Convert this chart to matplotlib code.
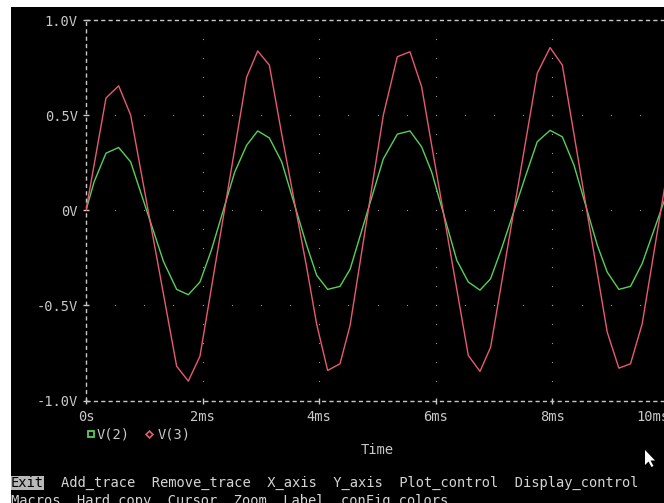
import numpy as np
import matplotlib
matplotlib.use("Agg")
import matplotlib.pyplot as plt
from matplotlib.patches import Rectangle, Polygon
from matplotlib.lines import Line2D

# ---- data (time in ms, volts) ----
time_ms = [0.0, 0.14, 0.343, 0.56, 0.766, 1.33, 1.555, 1.755, 1.955, 2.15, 2.55,
           2.756, 2.945, 3.145, 3.357, 3.785, 3.957, 4.145, 4.357, 4.53,
           5.10, 5.34, 5.557, 5.757, 5.93, 6.36, 6.557, 6.758, 6.94, 7.13,
           7.54, 7.74, 7.96, 8.17, 8.37, 8.77, 8.94, 9.14, 9.34, 9.54, 10.0]
v2 = [0.00, 0.15, 0.30, 0.33, 0.254, -0.27, -0.416, -0.444, -0.377, -0.21, 0.20,
      0.342, 0.417, 0.38, 0.254, -0.184, -0.342, -0.416, -0.40, -0.31,
      0.27, 0.40, 0.417, 0.333, 0.20, -0.263, -0.377, -0.42, -0.36, -0.20,
      0.18, 0.36, 0.42, 0.386, 0.237, -0.184, -0.325, -0.416, -0.40, -0.28, 0.12]
v3 = [0.00, 0.24, 0.59, 0.654, 0.50, -0.443, -0.82, -0.898, -0.767, -0.41, 0.32,
      0.70, 0.837, 0.763, 0.40, -0.30, -0.60, -0.842, -0.807, -0.605,
      0.50, 0.807, 0.833, 0.649, 0.34, -0.415, -0.763, -0.847, -0.72, -0.378,
      0.36, 0.72, 0.855, 0.763, 0.40, -0.33, -0.64, -0.83, -0.807, -0.597, 0.26]

x_ticks = [0, 2, 4, 6, 8, 10]
x_ticklabels = ["0s", "2ms", "4ms", "6ms", "8ms", "10ms"]
y_ticks = [-1.0, -0.5, 0.0, 0.5, 1.0]
y_ticklabels = ["-1.0V", "-0.5V", "0V", "0.5V", "1.0V"]
series_names = ["V(2)", "V(3)"]
menu_exit = "Exit"
menu_line1 = "Add_trace  Remove_trace  X_axis  Y_axis  Plot_control  Display_control"
menu_line2 = "Macros  Hard_copy  Cursor  Zoom  Label  conFig_colors"
x_title = "Time"

W, H = 664, 503
GREEN = "#58d058"
RED = "#e65a72"
GRAY = "#c8c8c8"
MONO = "DejaVu Sans Mono"
FS = 9.9
CW = FS * 100 / 72 * 0.602  # char width in px

def fx(px):
    return px / W

def fy(py):
    return 1 - py / H

fig = plt.figure(figsize=(W / 100, H / 100), dpi=100, facecolor="white")
# black screen area (white border top/left)
fig.add_artist(Rectangle((fx(11), 0), 1 - fx(11), fy(7), transform=fig.transFigure,
                         facecolor="black", edgecolor="none", zorder=0))

ax_l, ax_r, ax_t, ax_b = 86, 669, 20, 400.5
ax = fig.add_axes([fx(ax_l), fy(ax_b), fx(ax_r - ax_l), (ax_b - ax_t) / H])
ax.set_facecolor("black")
ax.set_xlim(0, 10)
ax.set_ylim(-1, 1)
for s in ax.spines.values():
    s.set_visible(False)

dash = (0, (3.0, 2.3))
ax.axhline(1, color=GRAY, lw=1.0, linestyle=dash, clip_on=False)
ax.axhline(-1, color=GRAY, lw=1.0, linestyle=dash, clip_on=False)
ax.axvline(0, color=GRAY, lw=1.0, linestyle=dash, clip_on=False)

# dotted grid
gx = np.arange(0.5, 10.0, 0.5)
for yv in [-0.5, 0.0, 0.5]:
    ax.scatter(gx, np.full_like(gx, yv), s=0.8, color="#9a9a9a", linewidths=0, zorder=1)
gy = np.arange(-0.9, 0.95, 0.1)
for xv in [2, 4, 6, 8]:
    ax.scatter(np.full_like(gy, xv), gy, s=0.8, color="#9a9a9a", linewidths=0, zorder=1)

ax.plot(time_ms, v2, color=GREEN, lw=1.0, zorder=3)
ax.plot(time_ms, v3, color=RED, lw=1.0, zorder=3)

ax.set_xticks(x_ticks)
ax.set_xticklabels(x_ticklabels)
ax.set_yticks(y_ticks)
ax.set_yticklabels(y_ticklabels)
ax.tick_params(axis="both", direction="inout", length=4, width=1, color=GRAY,
               labelcolor=GRAY, labelsize=FS)
ax.tick_params(axis="x", pad=4.5)
ax.tick_params(axis="y", pad=4.0)
for lab in ax.get_xticklabels() + ax.get_yticklabels():
    lab.set_fontfamily(MONO)
ax.get_xticklabels()[-1].set_horizontalalignment("right")

fig.text(fx(377.5), fy(450), x_title, color=GRAY, family=MONO, fontsize=FS,
         ha="center", va="center")

# legend
fig.add_artist(Line2D([fx(91)], [fy(434)], marker="s", markersize=5, mfc="none",
                      mec=GREEN, mew=1.3, linestyle="None", transform=fig.transFigure))
fig.text(fx(97), fy(434), series_names[0], color=GRAY, family=MONO, fontsize=FS,
         ha="left", va="center")
fig.add_artist(Line2D([fx(149)], [fy(434)], marker="D", markersize=3.5, mfc="none",
                      mec=RED, mew=1.2, linestyle="None", transform=fig.transFigure))
fig.text(fx(158), fy(434), series_names[1], color=GRAY, family=MONO, fontsize=FS,
         ha="left", va="center")

# menu
fig.add_artist(Rectangle((fx(11), fy(490)), fx(33), 14 / H, transform=fig.transFigure,
                         facecolor="#b8b8b8", edgecolor="none", zorder=1))
fig.text(fx(11), fy(483), menu_exit, color="black", family=MONO,
         fontsize=FS, ha="left", va="center", zorder=2)
fig.text(fx(11 + 6 * CW), fy(483), menu_line1, color="#d4d4d4", family=MONO,
         fontsize=FS, ha="left", va="center", zorder=2)
fig.text(fx(11), fy(501), menu_line2, color="#d4d4d4", family=MONO,
         fontsize=FS, ha="left", va="center", zorder=2)

# mouse pointer
ptr = np.array([[0, 0], [0, 15], [3.5, 11.5], [6.5, 17], [8.5, 16], [5.5, 10.5], [10, 10.5]])
ptr_px = ptr + np.array([645, 450])
fig.add_artist(Polygon(np.column_stack([fx(ptr_px[:, 0]), fy(ptr_px[:, 1])]),
                       closed=True, transform=fig.transFigure, facecolor="white",
                       edgecolor="none"))

fig.savefig("out.png", dpi=100, facecolor=fig.get_facecolor())
